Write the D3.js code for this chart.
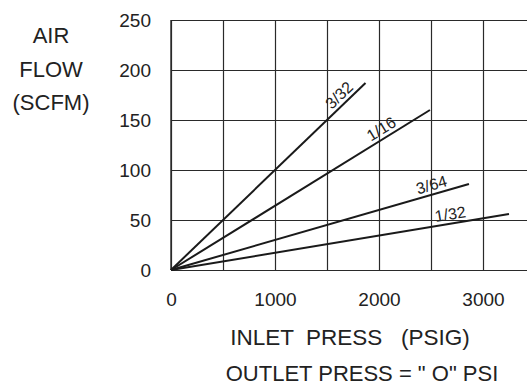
<!DOCTYPE html>
<html>
<head>
<meta charset="utf-8">
<script src="https://cdn.jsdelivr.net/npm/d3@7"></script>
<style>
  body { margin: 0; background: #fff; }
  svg text { font-family: "Liberation Sans", Arial, Helvetica, sans-serif; fill: #222; }
</style>
</head>
<body>
<svg id="chart" width="527" height="387"></svg>
<script>
// orifice sizes and end points of each flow line (inlet psig, scfm)
var orifices = ["3/32", "1/16", "3/64", "1/32"];
var endPress = [1870, 2490, 2865, 3250];
var endFlow = [187, 160, 86, 56];
// where along the line the size label sits (psig)
var labelPress = [1680, 2070, 2530, 2700];

var xTicks = [0, 1000, 2000, 3000];
var xGrid = [0, 500, 1000, 1500, 2000, 2500, 3000, 3500];
var yTicks = [0, 50, 100, 150, 200, 250];
var yTitle = ["AIR", "FLOW", "(SCFM)"];
var xTitle = "INLET  PRESS   (PSIG)";
var xNote = "OUTLET PRESS = \" O\" PSI";

var svg = d3.select("#chart")
    , margin = {top: 20, right: 0, bottom: 117, left: 171}
    , width = 364
    , height = 250
    , g = svg.append("g").attr("transform", "translate(" + margin.left + "," + margin.top + ")")
    , x = d3.scaleLinear().domain([0, 3500]).range([0, width])
    , y = d3.scaleLinear().domain([0, 250]).range([height, 0]);

// grid
g.append("g")
    .attr("class", "grid grid--x")
    .attr("transform", "translate(0," + height + ")")
    .call(d3.axisBottom(x).tickValues(xGrid).tickSize(-height).tickFormat(""))
    .call(function(s) { s.select(".domain").remove(); });

g.append("g")
    .attr("class", "grid grid--y")
    .call(d3.axisLeft(y).tickValues(yTicks).tickSize(-width).tickFormat(""))
    .call(function(s) { s.select(".domain").remove(); });

g.selectAll(".grid line")
    .attr("stroke", "#2a2a2a")
    .attr("stroke-width", 1.2);

g.append("line")
    .attr("x1", 0).attr("x2", 0)
    .attr("y1", 0).attr("y2", height)
    .attr("stroke", "#2a2a2a")
    .attr("stroke-width", 1.4);

// tick labels
g.append("g")
    .attr("class", "axis axis--x")
    .attr("transform", "translate(0," + height + ")")
    .call(d3.axisBottom(x).tickValues(xTicks).tickFormat(d3.format("d")).tickSize(0).tickPadding(23))
    .call(function(s) { s.select(".domain").remove(); })
    .selectAll("text")
    .attr("font-size", 19);

g.append("g")
    .attr("class", "axis axis--y")
    .call(d3.axisLeft(y).tickValues(yTicks).tickSize(0).tickPadding(20))
    .call(function(s) { s.select(".domain").remove(); })
    .selectAll("text")
    .attr("font-size", 19);

g.selectAll(".axis text").attr("fill", "#222").attr("font-family", null);

// flow lines
var line = d3.line()
    .x(function(d) { return x(d[0]); })
    .y(function(d) { return y(d[1]); });

orifices.forEach(function(name, i) {
    var pts = [[0, 0], [endPress[i], endFlow[i]]];
    g.append("path")
        .attr("class", "line")
        .attr("d", line(pts))
        .attr("fill", "none")
        .attr("stroke", "#1a1a1a")
        .attr("stroke-width", 2);

    var slope = endFlow[i] / endPress[i]
        , lx = x(labelPress[i])
        , ly = y(labelPress[i] * slope)
        , ang = Math.atan2(y(endFlow[i]) - y(0), x(endPress[i]) - x(0)) * 180 / Math.PI;

    g.append("text")
        .attr("transform", "translate(" + lx + "," + ly + ") rotate(" + ang + ")")
        .attr("dy", -4)
        .attr("text-anchor", "middle")
        .attr("font-size", 16)
        .text(name);
});

// titles
svg.append("g")
    .selectAll("text")
    .data(yTitle)
    .enter().append("text")
    .attr("x", 51)
    .attr("y", function(d, i) { return 43 + i * 33.5; })
    .attr("text-anchor", "middle")
    .attr("font-size", 22)
    .text(function(d) { return d; });

svg.append("text")
    .attr("x", 350)
    .attr("y", 345)
    .attr("text-anchor", "middle")
    .attr("font-size", 22.5)
    .style("white-space", "pre")
    .text(xTitle);

svg.append("text")
    .attr("x", 362)
    .attr("y", 381)
    .attr("text-anchor", "middle")
    .attr("font-size", 22)
    .style("white-space", "pre")
    .text(xNote);
</script>
</body>
</html>
